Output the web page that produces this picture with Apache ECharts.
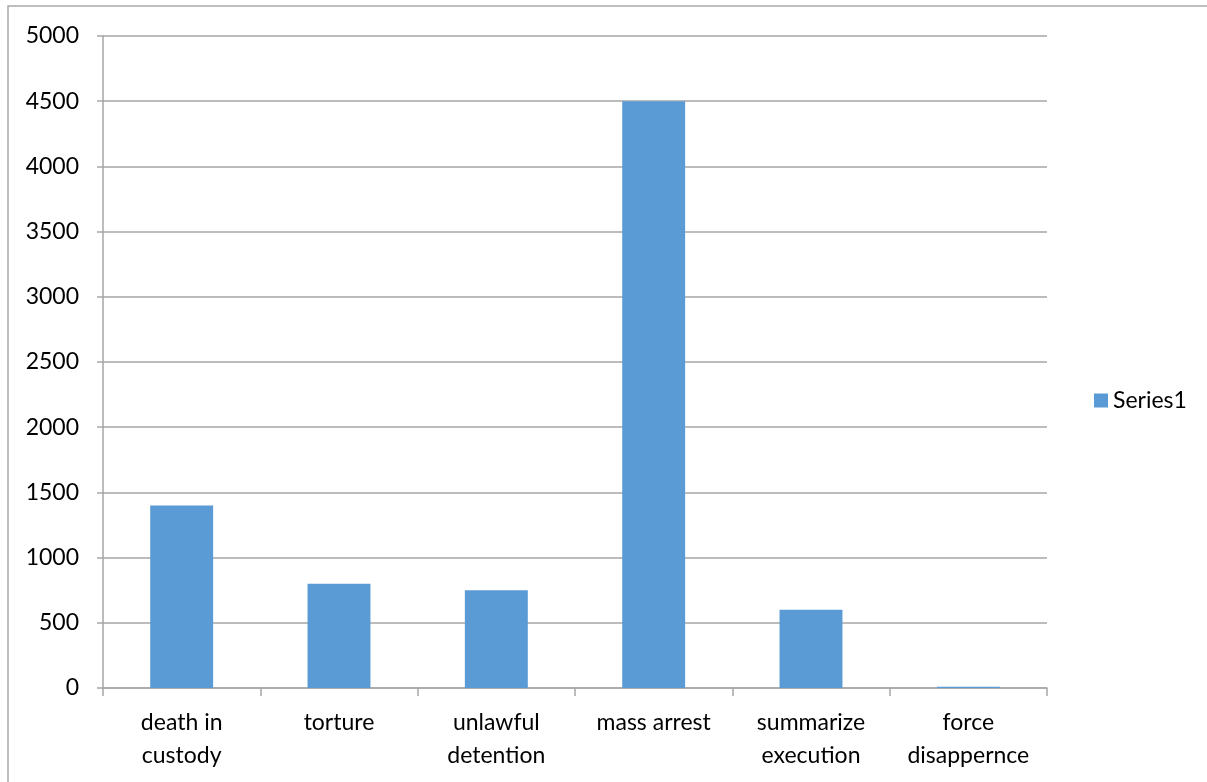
<!DOCTYPE html>
<html>
<head>
<meta charset="utf-8">
<script src="https://cdn.jsdelivr.net/npm/echarts@6/dist/echarts.min.js"></script>
<style>
  html, body { margin: 0; padding: 0; background: #fff; }
  #chart { width: 1207px; height: 782px; }
</style>
</head>
<body>
<div id="chart"></div>
<script>
// Categories and counts per violation type
const categories = ['death in\ncustody', 'torture', 'unlawful\ndetention', 'mass arrest', 'summarize\nexecution', 'force\ndisappernce'];
const series1 = [1400, 800, 750, 4500, 600, 10];
const seriesName = 'Series1';

const FONT = 'Lato, "Open Sans", sans-serif';
const GRAY = '#a6a6a6';

const chart = echarts.init(document.getElementById('chart'));
chart.setOption({
  animation: false,
  textStyle: { fontFamily: FONT },
  graphic: [{
    type: 'rect',
    shape: { x: 8, y: 6, width: 1400, height: 900 },
    style: { fill: 'none', stroke: '#a9a9a9', lineWidth: 1.5 },
    silent: true
  }],
  legend: {
    data: [seriesName],
    orient: 'vertical',
    left: 1089,
    top: 384,
    itemWidth: 14,
    itemHeight: 14,
    itemGap: 8,
    icon: 'rect',
    textStyle: { fontFamily: FONT, fontSize: 23, color: '#000' }
  },
  grid: { left: 103, right: 160, top: 36, bottom: 94, containLabel: false },
  xAxis: {
    type: 'category',
    data: categories,
    boundaryGap: true,
    axisLine: { lineStyle: { color: GRAY, width: 1.5 } },
    axisTick: { show: true, length: 8, alignWithLabel: false, lineStyle: { color: GRAY, width: 1.5 } },
    axisLabel: { color: '#000', fontSize: 23, fontFamily: FONT, margin: 18, lineHeight: 33, interval: 0 }
  },
  yAxis: {
    type: 'value',
    min: 0,
    max: 5000,
    interval: 500,
    axisLine: { show: true, lineStyle: { color: GRAY, width: 1.5 } },
    axisTick: { show: true, length: 6, lineStyle: { color: GRAY, width: 1.5 } },
    splitLine: { lineStyle: { color: GRAY, width: 1.5 } },
    axisLabel: { color: '#000', fontSize: 23, fontFamily: FONT, margin: 24, formatter: v => String(v) }
  },
  series: [{
    name: seriesName,
    type: 'bar',
    data: series1,
    barWidth: '40%',
    itemStyle: { color: '#5b9bd5' }
  }]
});
</script>
</body>
</html>
